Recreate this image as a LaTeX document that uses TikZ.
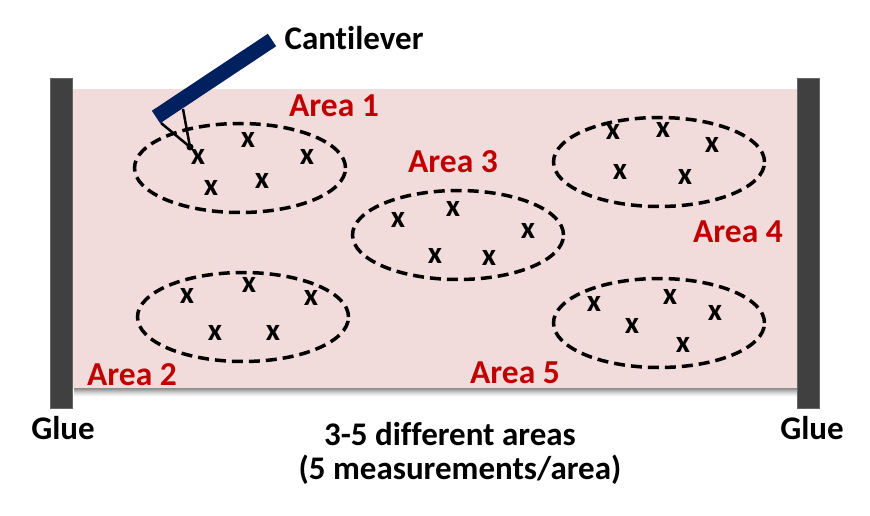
\documentclass[tikz,border=0pt]{standalone}
\usepackage{fontspec}
\setmainfont[Ligatures={NoCommon}]{Carlito}
\usetikzlibrary{calc,shapes.geometric}
\definecolor{pinkbg}{HTML}{F2DCDB}
\definecolor{barcol}{HTML}{404040}
\definecolor{navy}{HTML}{002060}
\definecolor{redtxt}{HTML}{C00000}
\tikzset{
  areaell/.style={draw=black, line width=3.5pt, dash pattern=on 11pt off 6pt, ellipse, minimum width=211pt, minimum height=89pt, inner sep=0pt},
  xmark/.style={font=\fontsize{31}{31}\selectfont\bfseries, inner sep=0pt},
  arealab/.style={font=\fontsize{33.5}{34}\selectfont\bfseries, text=redtxt, inner sep=0pt},
  blacklab/.style={font=\fontsize{33}{34}\selectfont\bfseries, text=black, inner sep=0pt},
  gluebar/.style={fill=barcol, draw=barcol!80!white, line width=0.5pt},
}
\begin{document}
\begin{tikzpicture}[x=1pt,y=-1pt]
\useasboundingbox (0,0) rectangle (870,516);
% shadow
\foreach \i/\o in {1/0.45,2/0.4,3/0.33,4/0.26,5/0.2,6/0.14,7/0.09,8/0.05,9/0.02}{
  \fill[black, opacity=\o] (74,388+\i-1) rectangle (797,388+\i);
}
% sample
\node[fill=pinkbg, minimum width=725pt, minimum height=299pt, inner sep=0pt, anchor=north west] (sample) at (72,89) {};
% glue bars
\node[gluebar, minimum width=22pt, minimum height=330pt, inner sep=0pt, anchor=north west] (gl) at (50,78) {};
\node[gluebar, minimum width=22pt, minimum height=330pt, inner sep=0pt, anchor=north west] (gr) at (797,78) {};
% ellipses
\node[areaell] (e1) at (240,168) {};
\node[areaell] (e3) at (458,235) {};
\node[areaell] (e4) at (659,162) {};
\node[areaell] (e2) at (243,317) {};
\node[areaell] (e5) at (659,323) {};
% x marks
\foreach \n/\x/\y in {a1/198/157,a2/248/140,a3/307/157,a4/211/188,a5/262/181,
  c1/398/220,c2/453/209,c3/528/231,c4/435/256,c5/489/258,
  d1/613/132,d2/663/130,d3/712/145,d4/620/172,d5/685/177,
  b1/187/296,b2/249/285,b3/311/298,b4/215/333,b5/273/333,
  f1/594/304,f2/670/297,f3/715/313,f4/632/326,f5/683/345}{
  \node[xmark] (x\n) at (\x,\y) {x};
}
% labels
\node[arealab] (l1) at (334,106) {Area 1};
\node[arealab] (l3) at (453,162) {Area 3};
\node[arealab] (l4) at (738,232) {Area 4};
\node[arealab] (l2) at (132,375) {Area 2};
\node[arealab] (l5) at (515,373) {Area 5};
\node[blacklab] (gluel) at (63,428) {Glue};
\node[blacklab] (gluer) at (812,428) {Glue};
\node[blacklab] (cant) at (354,38) {Cantilever};
\node[blacklab] (t1) at (450,434) {3-5 different areas};
\node[blacklab] (t2) at (460,470) {(5 measurements/area)};
% cantilever
\coordinate (cb1) at (156,117);
\coordinate (cb2) at (272,40);
\draw[navy, line width=15pt] (cb1) -- (cb2);
\coordinate (tipa) at (161,123);
\coordinate (tipb) at (183,109);
\coordinate (tip) at (190,147);
\draw[black, line width=2.5pt] (tipa) -- (tip);
\draw[black, line width=2.5pt] (tipb) -- (tip);
\fill[black] (tip) circle (3.5pt);
\end{tikzpicture}
\end{document}
